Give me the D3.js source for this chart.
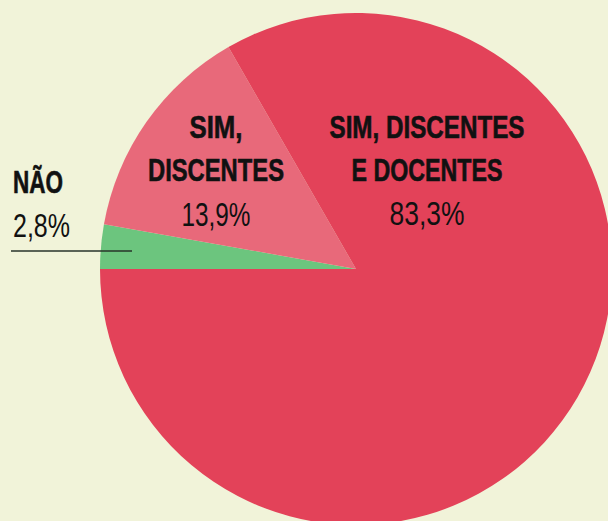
<!DOCTYPE html>
<html>
<head>
<meta charset="utf-8">
<script src="https://cdn.jsdelivr.net/npm/d3@7"></script>
<style>
  body { margin: 0; background: #f1f3d9; }
  svg { display: block; }
  .lbl { font-family: "Liberation Sans", Arial, sans-serif; fill: #111; }
</style>
</head>
<body>
<div id="chart"></div>
<script>
    var categories = ["NÃO", "SIM, DISCENTES", "SIM, DISCENTES E DOCENTES"];
    var values = [2.8, 13.9, 83.3];
    var valueLabels = ["2,8%", "13,9%", "83,3%"];
    var colors = ["#6cc57e", "#e8697a", "#e34259"];

    var W = 608, H = 521;
    var cx = 356, cy = 269, radius = 256;

    var svg = d3.select("#chart").append("svg")
        .attr("width", W)
        .attr("height", H);

    svg.append("rect").attr("width", W).attr("height", H).attr("fill", "#f1f3d9");

    // pie starts at 9 o'clock and runs clockwise
    var pie = d3.pie()
        .sort(null)
        .value(function (d) { return d; })
        .startAngle(-Math.PI / 2)
        .endAngle(3 * Math.PI / 2);

    var arc = d3.arc().innerRadius(0).outerRadius(radius);

    var g = svg.append("g").attr("transform", "translate(" + cx + "," + cy + ")");

    g.selectAll("path.slice")
        .data(pie(values))
        .enter()
        .append("path")
        .attr("class", "slice")
        .attr("d", arc)
        .attr("fill", function (d, i) { return colors[i]; });

    // leader line for the small slice
    svg.append("line")
        .attr("x1", 11).attr("x2", 132)
        .attr("y1", 251).attr("y2", 251)
        .attr("stroke", "#27332a")
        .attr("stroke-width", 1.5);

    // label layout: text lines, squeezed widths (condensed look), baselines
    var labels = [
        { lines: ["NÃO"], widths: [50], vWidth: 57, x: 13, y: 193, vy: 237, anchor: "start" },
        { lines: ["SIM,", "DISCENTES"], widths: [53, 136], vWidth: 69, x: 216, y: 138, vy: 226, anchor: "middle" },
        { lines: ["SIM, DISCENTES", "E DOCENTES"], widths: [195, 151], vWidth: 75, x: 427, y: 138, vy: 225, anchor: "middle" }
    ];
    var lineGap = 43;

    function addText(txt, x, y, anchor, size, weight, w, thick) {
        var x0 = anchor === "middle" ? x - w / 2 : x;
        svg.append("text")
            .attr("class", "lbl")
            .attr("x", x0)
            .attr("y", y)
            .attr("textLength", w)
            .attr("lengthAdjust", "spacingAndGlyphs")
            .attr("stroke", thick ? "#111" : "none")
            .attr("stroke-width", thick || 0)
            .style("font-size", size + "px")
            .style("font-weight", weight)
            .text(txt);
    }

    labels.forEach(function (l, i) {
        l.lines.forEach(function (t, k) {
            addText(t, l.x, l.y + k * lineGap, l.anchor, 30.5, "bold", l.widths[k], 0.6);
        });
        addText(valueLabels[i], l.x, l.vy, l.anchor, 32.5, "normal", l.vWidth, 0);
    });
</script>
</body>
</html>
